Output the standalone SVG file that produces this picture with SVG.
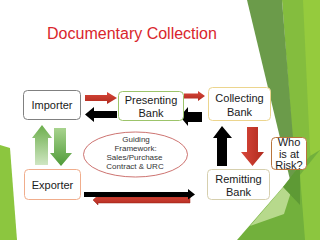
<svg xmlns="http://www.w3.org/2000/svg" width="320" height="240" viewBox="0 0 320 240">
<style>
.box{fill:#fff;stroke-width:1;}
.t{font-family:"Liberation Sans",Arial,sans-serif;font-size:11px;fill:#1a1a1a;text-anchor:middle;}
.s{font-family:"Liberation Sans",Arial,sans-serif;font-size:8px;fill:#333;text-anchor:middle;}
</style>
<defs>
<linearGradient id="red" x1="0" y1="0" x2="0" y2="1"><stop offset="0" stop-color="#d8473a"/><stop offset="1" stop-color="#b02a1e"/></linearGradient>
<linearGradient id="redv" x1="0" y1="0" x2="1" y2="0"><stop offset="0" stop-color="#d8473a"/><stop offset="1" stop-color="#b02a1e"/></linearGradient>
<linearGradient id="gup" x1="0" y1="0" x2="0" y2="1"><stop offset="0" stop-color="#6cae4c"/><stop offset="1" stop-color="#cfe6c2"/></linearGradient>
<linearGradient id="gdn" x1="0" y1="0" x2="0" y2="1"><stop offset="0" stop-color="#a8d38e"/><stop offset="1" stop-color="#4f9a38"/></linearGradient>
</defs>
<rect width="320" height="240" fill="#fff"/>
<g id="decoration">
<polygon points="282,0 320,0 320,240 296,190" fill="#84bd3e"/>
<polygon points="303,0 320,0 320,240 310,150" fill="#95cb3d"/>
<polygon points="247,0 282,0 297,188 292,188" fill="#6b9b4a"/>
<polygon points="237,240 310,156 320,150 320,240" fill="#72b03c"/>
<polygon points="300,175 320,150 320,240 305,240" fill="#8cc63f"/>
<polygon points="250,226 298,170 284,214" fill="#c3e09a" opacity="0.85"/>
<polygon points="283,187 300,165 300,205" fill="#5e9a35"/>
<polygon points="0,145 10,148 17,240 0,240" fill="#8cc63f"/>
</g>
<text x="132" y="38.5" font-family="Liberation Sans,Arial,sans-serif" font-size="16" fill="#d9262c" text-anchor="middle">Documentary Collection</text>
<g id="connectors">
<polygon points="85,95 107,95 107,92 117,98 107,104 107,101 85,101" fill="url(#red)"/>
<polygon points="117,111 94,111 94,107 85,114.5 94,122 94,118 117,118" fill="#000"/>
<polygon points="184,93.5 198,93.5 198,91 205,96 198,101 198,98.5 184,98.5" fill="url(#red)"/>
<polygon points="202,112 188,112 188,107 180,116.5 188,126 188,122 202,122" fill="#000"/>
<polygon points="217,166 217,138 213,138 222,126 232,138 227,138 227,166" fill="#000"/>
<polygon points="247,127 258,127 258,152 264,152 252.5,166 241,152 247,152" fill="url(#redv)"/>
<polygon points="190,197 190,203 98,203 98,205 93,200 98,195.5 98,197" fill="url(#red)" stroke="#9a2418" stroke-width="0.5"/>
<polygon points="84,192 188,192 188,189 195,194.5 188,199.5 188,197 84,197" fill="#000"/>
<polygon points="35,165 35,138 32,138 42,125 52,138 48,138 48,165" fill="url(#gup)"/>
<polygon points="54,128 66,128 66,153 72,153 61,166 50,153 54,153" fill="url(#gdn)"/>
</g>
<g id="importer">
<rect class="box" x="23.5" y="90.5" width="57" height="29" rx="4" stroke="#808080"/>
<text class="t" x="52" y="109">Importer</text>
</g>
<g id="presenting">
<rect class="box" x="118.5" y="91.5" width="65" height="29" rx="4" stroke="#9cc46a"/>
<text class="t" x="151" y="104">Presenting</text>
<text class="t" x="151" y="116.5">Bank</text>
</g>
<g id="collecting">
<rect class="box" x="208.5" y="87.5" width="62" height="33" rx="4" stroke="#ecd58e"/>
<text class="t" x="239.5" y="102">Collecting</text>
<text class="t" x="239.5" y="115.5">Bank</text>
</g>
<g id="risk">
<rect class="box" x="271.5" y="137.5" width="35" height="32" rx="4" stroke="#b8743c"/>
<text class="t" x="289" y="146">Who</text>
<text class="t" x="289" y="157.5">is at</text>
<text class="t" x="289" y="169">Risk?</text>
</g>
<g id="exporter">
<rect class="box" x="24.5" y="169.5" width="56" height="30" rx="4" stroke="#f0ad8c"/>
<text class="t" x="52.5" y="189">Exporter</text>
</g>
<g id="remitting">
<rect class="box" x="207.5" y="169.5" width="62" height="30" rx="4" stroke="#d6cfae"/>
<text class="t" x="238.5" y="183">Remitting</text>
<text class="t" x="238.5" y="196">Bank</text>
</g>
<g id="framework">
<ellipse cx="135.5" cy="154.5" rx="52" ry="22.5" fill="#fff" stroke="#c0504d" stroke-width="0.8"/>
<text class="s" x="136" y="142">Guiding</text>
<text class="s" x="135.5" y="151">Framework:</text>
<text class="s" x="134.5" y="160">Sales/Purchase</text>
<text class="s" x="135" y="169">Contract &amp; URC</text>
</g>
</svg>
